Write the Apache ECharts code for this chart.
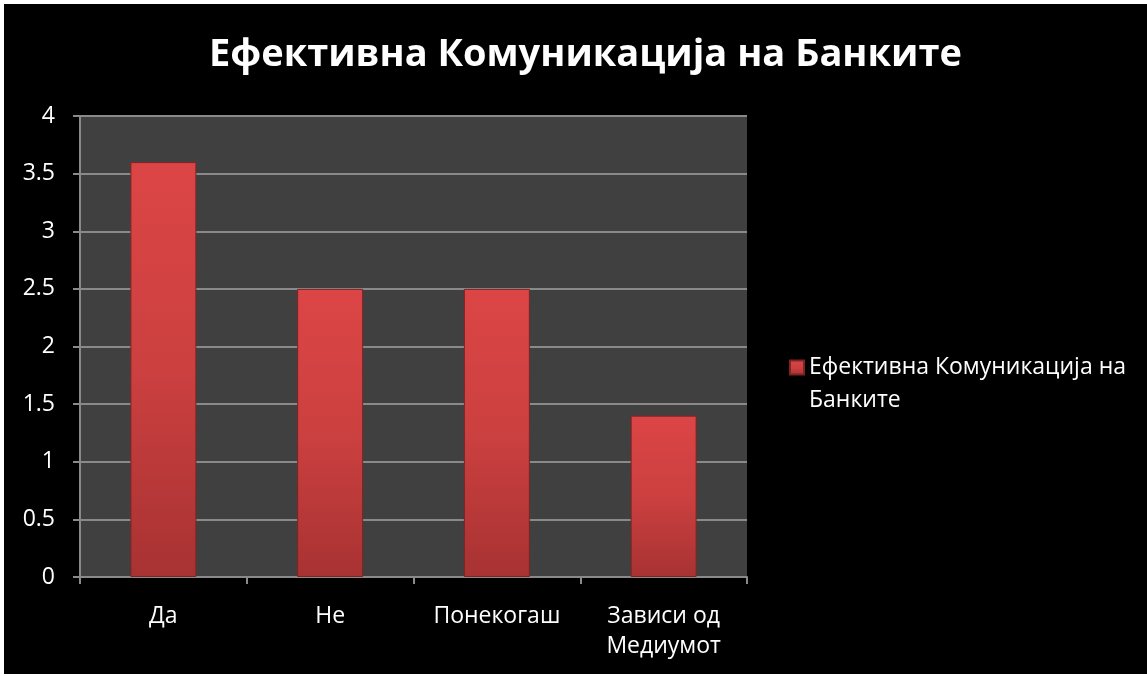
<!DOCTYPE html>
<html>
<head>
<meta charset="utf-8">
<script src="https://cdn.jsdelivr.net/npm/echarts@6/dist/echarts.min.js"></script>
<style>
html,body{margin:0;padding:0;background:#ffffff;width:1147px;height:676px;overflow:hidden;}
#c{position:absolute;left:4px;top:4px;width:1143px;height:670px;background:#000;}
</style>
</head>
<body>
<div id="c"></div>
<script>
var titleText = 'Ефективна Комуникација на Банките';
var seriesName = 'Ефективна Комуникација на Банките';
var categories = ['Да', 'Не', 'Понекогаш', 'Зависи од\nМедиумот'];
var values = [3.6, 2.5, 2.5, 1.4];
var yTicks = [0, 0.5, 1, 1.5, 2, 2.5, 3, 3.5, 4];

var chart = echarts.init(document.getElementById('c'), null, {renderer: 'canvas'});
var font = '"Open Sans", "Noto Sans", sans-serif';
var barColor = new echarts.graphic.LinearGradient(0, 0, 0, 1, [
  {offset: 0, color: '#dc4545'},
  {offset: 0.5, color: '#cc4040'},
  {offset: 1, color: '#a83232'}
]);
chart.setOption({
  backgroundColor: '#000000',
  animation: false,
  title: {
    text: titleText,
    left: 200,
    top: 27,
    textStyle: {color: '#ffffff', fontFamily: font, fontWeight: 'bold', fontSize: 38}
  },
  legend: {
    left: 780,
    top: 309,
    orient: 'vertical',
    icon: 'rect',
    itemWidth: 14,
    itemHeight: 14,
    itemGap: 8,
    data: [seriesName],
    formatter: function () { return ' \nЕфективна Комуникација на\nБанките'; },
    textStyle: {color: '#ffffff', fontFamily: font, fontSize: 23, lineHeight: 33}
  },
  grid: {
    left: 76, top: 112, right: 400, bottom: 97,
    show: true, backgroundColor: '#404040', borderWidth: 0
  },
  xAxis: {
    type: 'category',
    data: categories,
    axisLine: {lineStyle: {color: '#8a8a8a', width: 2}},
    axisTick: {show: true, length: 7, lineStyle: {color: '#8a8a8a', width: 2}},
    axisLabel: {color: '#ffffff', fontFamily: font, fontSize: 23, lineHeight: 30, margin: 24}
  },
  yAxis: {
    type: 'value',
    min: 0, max: 4, interval: 0.5,
    axisLine: {show: true, lineStyle: {color: '#8a8a8a', width: 2}},
    axisTick: {show: true, length: 7, lineStyle: {color: '#8a8a8a', width: 2}},
    splitLine: {lineStyle: {color: '#8a8a8a', width: 2}},
    axisLabel: {color: '#ffffff', fontFamily: font, fontSize: 23, margin: 25,
      formatter: function (v) { return yTicks.indexOf(v) >= 0 ? String(v) : ''; }}
  },
  series: [{
    name: seriesName,
    type: 'bar',
    data: values,
    barWidth: 66,
    itemStyle: {color: barColor, borderColor: '#7d2424', borderWidth: 1}
  }]
});
</script>
</body>
</html>
